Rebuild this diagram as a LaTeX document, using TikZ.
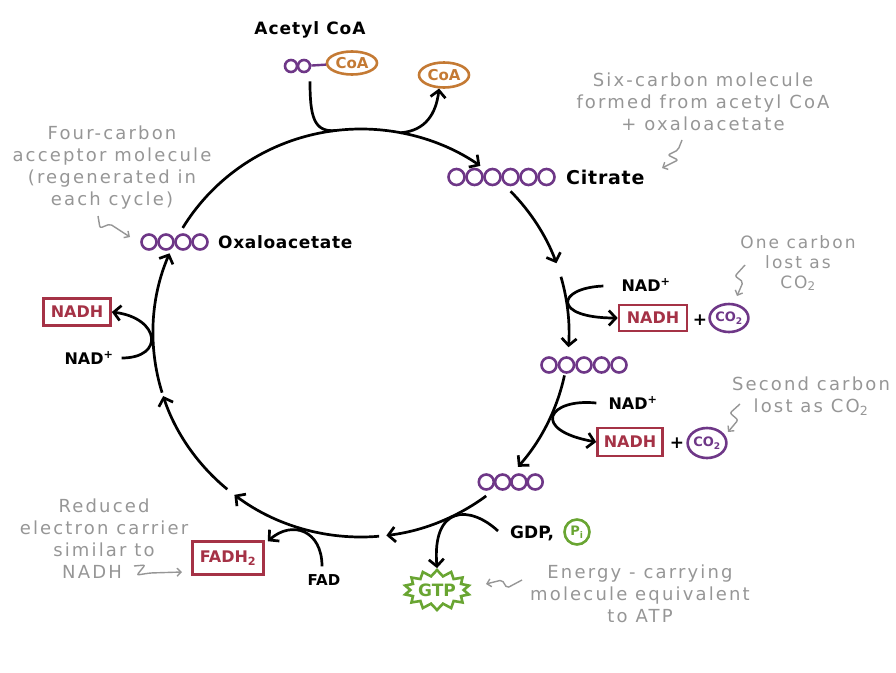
\documentclass[tikz,border=0pt]{standalone}
\usepackage{fontspec}
\setmainfont{DejaVu Sans}
\usetikzlibrary{arrows.meta,calc,shapes.symbols,shapes.geometric}
\definecolor{purp}{RGB}{110,55,135}
\definecolor{coac}{RGB}{196,122,52}
\definecolor{nred}{RGB}{165,50,70}
\definecolor{grn}{RGB}{105,165,50}
\definecolor{ann}{RGB}{150,150,150}
\begin{document}
\begin{tikzpicture}[x=1pt,y=-1pt,
  cyc/.style={line width=2.7pt, black},
  arr/.style={cyc, -{Straight Barb[length=7pt,width=15pt]}},
  carb/.style={circle, draw=purp, line width=2.6pt, minimum size=15pt, inner sep=0pt},
  lab/.style={inner sep=0pt, font=\fontsize{17}{20}\selectfont\bfseries\addfontfeature{LetterSpace=4}},
  redbox/.style={draw=nred, line width=2.6pt, text=nred, font=\fontsize{16}{19}\selectfont\bfseries, minimum width=68pt, minimum height=26pt, inner sep=0pt},
  cotwo/.style={ellipse, draw=purp, line width=2.6pt, text=purp, font=\fontsize{13}{15}\selectfont\bfseries, minimum width=36pt, minimum height=28pt, inner sep=0pt},
  coaell/.style={ellipse, draw=coac, line width=2.6pt, text=coac, font=\fontsize{15}{17}\selectfont\bfseries, minimum width=50pt, minimum height=23pt, inner sep=0pt},
  note/.style={text=ann, font=\fontsize{18}{22}\selectfont\addfontfeature{LetterSpace=12}, align=center, inner sep=0pt},
  garr/.style={ann, line width=1.4pt, rounded corners=2pt, -{Straight Barb[length=4pt,width=8pt]}},
  gtpburst/.style={starburst, draw=grn, line width=2.6pt, text=grn, starburst points=14, starburst point height=6pt, random starburst=0, minimum width=62pt, minimum height=40pt, inner sep=0pt, font=\fontsize{17}{20}\selectfont\bfseries}
]
\useasboundingbox (0,0) rectangle (896,672);

% ---------- acetyl CoA ----------
\node[lab, font=\fontsize{17}{20}\selectfont\bfseries\addfontfeature{LetterSpace=6}] (acl) at (310,30) {Acetyl CoA};
\node[carb, minimum size=12pt] (ac1) at (291,66) {};
\node[carb, minimum size=12pt] (ac2) at (304,66) {};
\node[coaell] (coa1) at (352,63) {CoA};
\draw[purp, line width=2.4pt] (ac2) -- (coa1);
\node[coaell, minimum height=25pt] (coa2) at (444,75) {CoA};

% ---------- molecules on the cycle ----------
\foreach \i in {1,...,6} \node[carb, minimum size=16pt] (cit\i) at ({438.5+18*\i},177) {};
\node[lab, anchor=west, font=\fontsize{19}{22}\selectfont\bfseries\addfontfeature{LetterSpace=4}] (citl) at (566,177) {Citrate};
\foreach \i in {1,...,5} \node[carb] (fc\i) at ({531.5+17.5*\i},365) {};
\foreach \i in {1,...,4} \node[carb] (tc\i) at ({470+16.3*\i},482) {};
\foreach \i in {1,...,4} \node[carb] (ox\i) at ({132+17*\i},242) {};
\node[lab, anchor=west] (oxl) at (218,242) {Oxaloacetate};

% ---------- cycle ----------
\coordinate (C) at (361,333);
\coordinate (a1) at ($(C)+(-149:208 and 204)$);
\coordinate (b1) at ($(C)+(-44:208 and 204)$);
\coordinate (c1) at ($(C)+(-16:208 and 204)$);
\coordinate (d1) at ($(C)+(12:208 and 204)$);
\coordinate (e1) at ($(C)+(53:208 and 204)$);
\coordinate (f1) at ($(C)+(85:208 and 204)$);
\coordinate (g1) at ($(C)+(130:208 and 204)$);
\coordinate (h1) at ($(C)+(163:208 and 204)$);
\coordinate (j1) at ($(C)+(-97:208 and 204)$);
\coordinate (j2) at ($(C)+(-79:208 and 204)$);
\draw[arr] (a1) arc[start angle=-149, end angle=-55, x radius=208, y radius=204];
\draw[arr] (b1) arc[start angle=-44, end angle=-20, x radius=208, y radius=204];
\draw[arr] (c1) arc[start angle=-16, end angle=4, x radius=208, y radius=204];
\draw[arr] (d1) arc[start angle=12, end angle=41, x radius=208, y radius=204];
\draw[arr] (e1) arc[start angle=53, end angle=83, x radius=208, y radius=204];
\draw[arr] (f1) arc[start angle=85, end angle=127.5, x radius=208, y radius=204];
\draw[arr] (g1) arc[start angle=130, end angle=162, x radius=208, y radius=204];
\draw[arr] (h1) arc[start angle=163, end angle=203, x radius=208, y radius=204];

% acetyl in, CoA out
\draw[cyc] ($(ac2.south)+(6,8)$) .. controls +(0,35) and +(-22,2) .. (j1);
\draw[arr] (j2) .. controls +(25,-2) and +(-3,25) .. (coa2.250);

% ---------- first NAD+ ----------
\node[lab, font=\fontsize{16}{19}\selectfont\bfseries] (nad1) at (646,285) {NAD\textsuperscript{+}};
\node[redbox] (nadh1) at (653,318) {NADH};
\node[lab] (plus1) at (700,320) {+};
\node[cotwo] (co21) at (729,318) {CO\textsubscript{2}};
\draw[arr] ($(nad1.west)+(-18,1)$) .. controls (556,288) and (552,318) .. (nadh1.west);

% ---------- second NAD+ ----------
\node[lab, font=\fontsize{16}{19}\selectfont\bfseries] (nad2) at (633,403) {NAD\textsuperscript{+}};
\node[redbox, minimum width=65pt, minimum height=28pt] (nadh2) at (630,442) {NADH};
\node[lab] (plus2) at (677,443) {+};
\node[cotwo, minimum width=38pt, minimum height=30pt] (co22) at (707,443) {CO\textsubscript{2}};
\draw[arr] ($(nad2.west)+(-12,0)$) .. controls (548,398) and (530,430) .. (nadh2.west);

% ---------- GDP / GTP ----------
\node[lab, anchor=west, font=\fontsize{17}{20}\selectfont\bfseries] (gdp) at (510,533) {GDP,};
\node[circle, draw=grn, line width=2.6pt, text=grn, font=\fontsize{13}{15}\selectfont\bfseries, minimum size=25pt, inner sep=0pt] (pi) at (577,532) {P\textsubscript{i}};
\node[gtpburst] (gtp) at (437,590) {GTP};
\draw[arr] ($(gdp.west)+(-12,-2)$) .. controls (470,505) and (432,505) .. (gtp.north);

% ---------- FAD ----------
\node[lab, font=\fontsize{15}{18}\selectfont\bfseries] (fad) at (324,580) {FAD};
\node[redbox, minimum width=71pt, minimum height=33pt] (fadh) at (228,558) {FADH\textsubscript{2}};
\draw[arr] ($(fad.north)+(-2,-8)$) .. controls (322,530) and (292,520) .. ($(fadh.north east)+(3,1)$);

% ---------- left NAD+ ----------
\node[lab, font=\fontsize{16}{19}\selectfont\bfseries] (nad3) at (89,358) {NAD\textsuperscript{+}};
\node[redbox, minimum width=67pt, minimum height=27pt] (nadh3) at (77,312) {NADH};
\draw[arr] ($(nad3.east)+(8,0)$) .. controls (165,358) and (160,318) .. (nadh3.east);

% ---------- annotations ----------
\node[note] (n6) at (703,102) {Six-carbon molecule\\formed from acetyl CoA\\+ oxaloacetate};
\draw[garr] (682,140) -- (678,150) -- (668,155) -- (678,160) -- (662,168);

\node[note, font=\fontsize{17}{20}\selectfont\addfontfeature{LetterSpace=12}] (n1) at (798,263) {One carbon\\lost as\\CO\textsubscript{2}};
\draw[garr] (745,265) -- (735,276) -- (743,282) -- (737,296);

\node[note] (n2) at (811,396) {Second carbon\\lost as CO\textsubscript{2}};
\draw[garr] (740,404) -- (730,413) -- (738,420) -- (728,432);

\node[note] (ne) at (640,594) {Energy - carrying\\molecule equivalent\\to ATP};
\draw[garr] (522,580) -- (507,588) -- (502,580) -- (486,584);

\node[note] (nr) at (104,539) {Reduced\\electron carrier\\similar to\\NADH\hspace*{24pt}};
\draw[garr] (134,566) -- (145,565) -- (137,575) -- (150,573) -- (182,572);

\node[note] (nf) at (112,168) {Four-carbon\\acceptor molecule\\(regenerated in\\each cycle)};
\draw[garr] (98,216) -- (100,228) -- (110,224) -- (130,237);
\end{tikzpicture}
\end{document}
